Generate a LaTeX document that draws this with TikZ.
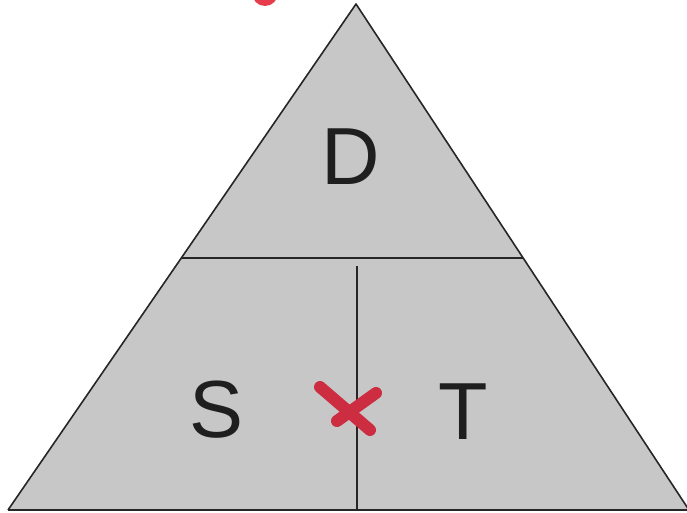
\documentclass[tikz,border=0pt]{standalone}
\usepackage{fontspec}
\setmainfont{Liberation Sans}
\definecolor{penred}{RGB}{205,45,65}
\definecolor{dotred}{RGB}{230,60,75}
\begin{document}
\begin{tikzpicture}[x=1pt,y=-1pt,
  edge/.style={draw=black!85,line width=1.6pt},
  letter/.style={font=\fontsize{81}{81}\selectfont,text=black!88,inner sep=0pt},
  redmark/.style={draw=penred,line width=12pt,line cap=round}]
\useasboundingbox (0,0) rectangle (687,513);
\coordinate (apex) at (356,4);
\coordinate (bl) at (8,510);
\coordinate (br) at (689,510);
\coordinate (hl) at (182,258);
\coordinate (hr) at (523,258);
\coordinate (vt) at (357,266);
\coordinate (vb) at (357,510);
\fill[black!22] (apex) -- (br) -- (bl) -- cycle;
\draw[edge,line join=round] (bl) -- (apex) -- (br);
\draw[edge,line width=2.4pt] (bl) -- (br);
\draw[edge,line width=1.4pt] (hl) -- (hr);
\draw[edge,line width=1.2pt] (vt) -- (vb);
\node[letter] (D) at (351,157) {D};
\node[letter] (S) at (217,410) {S};
\node[letter] (T) at (463,412) {T};
\coordinate (x1a) at (320,387);
\coordinate (x1b) at (370,430);
\coordinate (x2a) at (376,393);
\coordinate (x2b) at (337,421);
\draw[redmark] (x1a) -- (x1b);
\draw[redmark] (x2a) -- (x2b);
\fill[dotred] (265,-7) circle (13);
\end{tikzpicture}
\end{document}
